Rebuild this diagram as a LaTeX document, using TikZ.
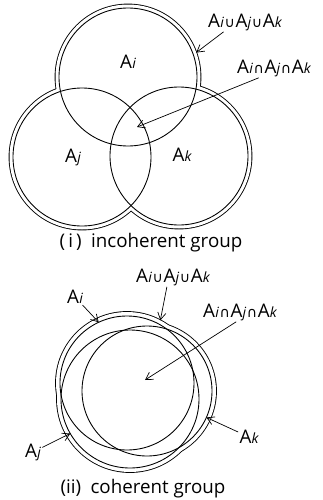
\documentclass[tikz,border=0pt]{standalone}
\usepackage{fontspec}
\setmainfont{Open Sans}
\newfontfamily\symfont{DejaVu Sans}
\usetikzlibrary{arrows.meta, calc}
\newcommand{\setA}[1]{A\kern0.2pt{\fontsize{12}{12}\selectfont\itshape #1}}
\newcommand{\scup}{\kern0.6pt{\symfont\fontsize{12}{12}\selectfont ∪}\kern0.6pt}
\newcommand{\scap}{\kern0.6pt{\symfont\fontsize{12}{12}\selectfont ∩}\kern0.6pt}

\begin{document}
\begin{tikzpicture}[x=0.03cm, y=-0.03cm,
  set/.style={line width=0.75pt},
  hull/.style={line width=1.5pt},
  lbl/.style={inner sep=1pt, font=\fontsize{16}{16}\selectfont},
  pointer/.style={-{Straight Barb[length=6pt,width=7pt]}, line width=0.6pt},
  caption/.style={font=\fontsize{16}{16}\selectfont}]
\useasboundingbox (0,0) rectangle (322,500);

% (i) incoherent group
\coordinate (ci) at (128,77);
\coordinate (cj) at (82,157);
\coordinate (ck) at (179,156);
\foreach \c in {ci,cj,ck} \draw[hull] (\c) circle[radius=72.5];
\foreach \c in {ci,cj,ck} \fill[white] (\c) circle[radius=72.5];
\foreach \c in {ci,cj,ck} \draw[set] (\c) circle[radius=69];

\node[lbl] (ni) at (128,62) {\setA{i}};
\node[lbl] (nj) at (73,157) {\setA{j}};
\node[lbl] (nk) at (182,155) {\setA{k}};
\node[lbl] (union1) at (245,22) {\setA{i}\scup\setA{j}\scup\setA{k}};
\node[lbl] (inter1) at (274,68) {\setA{i}\scap\setA{j}\scap\setA{k}};
\coordinate (tu1) at ($(ci)+(-19.7:72.5)$);
\coordinate (tx1) at (137,127);
\draw[pointer] ($(union1.south west)!0.22!(union1.south east)$) -- (tu1);
\draw[pointer] ($(inter1.south west)!0.3!(inter1.south east)$) -- (tx1);
\node[caption] (cap1) at (151,243) {(\,i\,)\enspace incoherent group};

% (ii) coherent group
\coordinate (di) at (127,383);
\coordinate (dj) at (130,399);
\coordinate (dk) at (147,391);
\foreach \c/\r in {di/71,dj/73,dk/69} \draw[hull] (\c) circle[radius=\r];
\foreach \c/\r in {di/71,dj/73,dk/69} \fill[white] (\c) circle[radius=\r];
\foreach \c/\r in {di/67,dj/69,dk/65} \draw[set] (\c) circle[radius=\r];

\node[lbl] (mi) at (75,297) {\setA{i}};
\node[lbl] (mj) at (33,452) {\setA{j}};
\node[lbl] (mk) at (249,437) {\setA{k}};
\node[lbl] (union2) at (173,277) {\setA{i}\scup\setA{j}\scup\setA{k}};
\node[lbl] (inter2) at (240,312) {\setA{i}\scap\setA{j}\scap\setA{k}};
\coordinate (tu2) at ($(di)+(-62:71)$);
\coordinate (ti2) at ($(di)+(-115:67)$);
\coordinate (tj2) at ($(dj)+(150:69)$);
\coordinate (tk2) at ($(dk)+(24:65)$);
\coordinate (tx2) at (145,380);
\draw[pointer] ($(union2.south west)!0.42!(union2.south east)$) -- (tu2);
\draw[pointer] (mi) -- (ti2);
\draw[pointer] (mj) -- (tj2);
\draw[pointer] (mk) -- (tk2);
\draw[pointer] ($(inter2.south west)!0.45!(inter2.south east)$) -- (tx2);
\node[caption] (cap2) at (143,489) {(ii)\enspace coherent group};
\end{tikzpicture}
\end{document}
